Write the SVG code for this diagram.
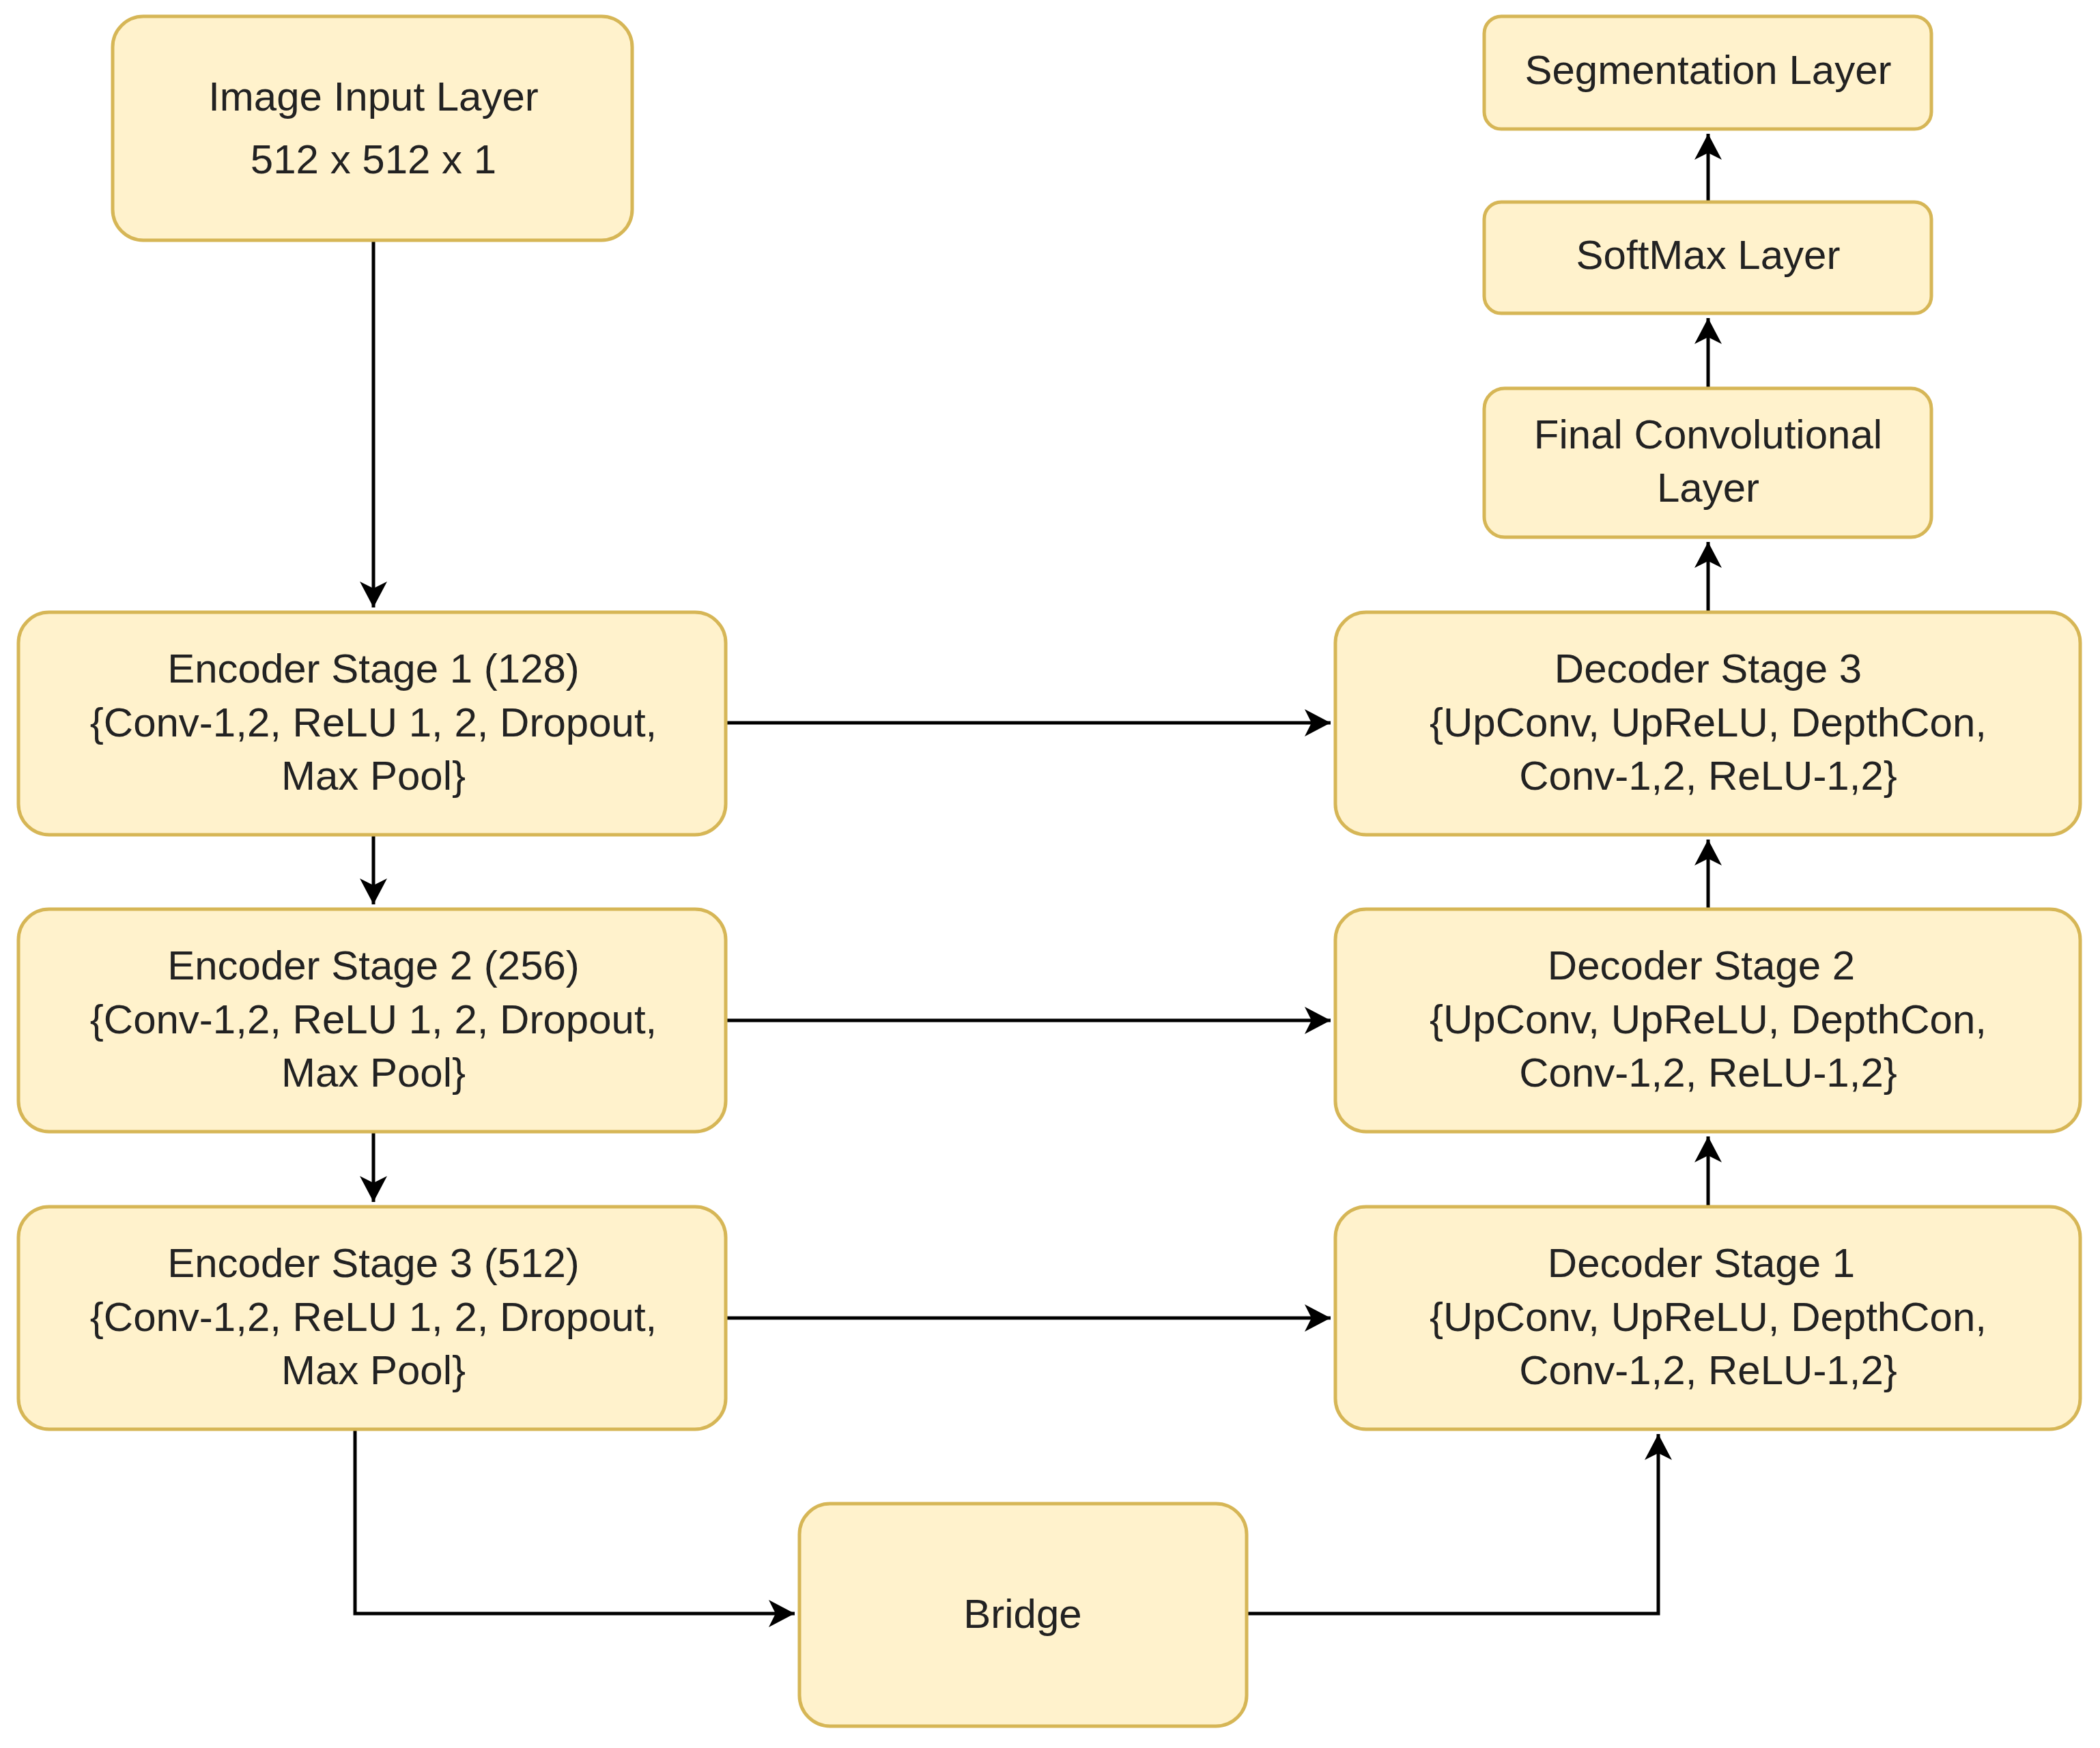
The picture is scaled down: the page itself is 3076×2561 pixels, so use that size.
<svg xmlns="http://www.w3.org/2000/svg" width="3076" height="2561" viewBox="0 0 3076 2561">
<style>
.n{fill:#fff2cc;stroke:#d6b656;stroke-width:5}
text{font-family:"Liberation Sans",Arial,sans-serif;font-size:60px;fill:#222;text-anchor:middle;dominant-baseline:central}
.c{fill:none;stroke:#000;stroke-width:5}
</style>
<defs><marker id="a" markerWidth="10" markerHeight="10" refX="8" refY="5" orient="auto" markerUnits="userSpaceOnUse" viewBox="0 0 10 10" style="overflow:visible"><path d="M-30,-15 L8,5 L-30,25 L-20,5 Z" fill="#000"/></marker></defs>
<rect width="3076" height="2561" fill="#fff"/>
<g id="connectors">
<path class="c" d="M547,352 V890" marker-end="url(#a)"/>
<path class="c" d="M547,1223 V1325" marker-end="url(#a)"/>
<path class="c" d="M547,1658 V1761" marker-end="url(#a)"/>
<path class="c" d="M1063,1059 H1949" marker-end="url(#a)"/>
<path class="c" d="M1063,1495 H1949" marker-end="url(#a)"/>
<path class="c" d="M1063,1931 H1949" marker-end="url(#a)"/>
<path class="c" d="M2502,1332 V1230" marker-end="url(#a)"/>
<path class="c" d="M2502,1768 V1665" marker-end="url(#a)"/>
<path class="c" d="M2502,897 V794" marker-end="url(#a)"/>
<path class="c" d="M2502,569 V466" marker-end="url(#a)"/>
<path class="c" d="M2502,296 V196" marker-end="url(#a)"/>
<path class="c" d="M520,2094 V2364 H1164" marker-end="url(#a)"/>
<path class="c" d="M1826,2364 H2429 V2101" marker-end="url(#a)"/>
</g>
<g id="input"><rect class="n" x="165" y="24" width="761" height="328" rx="45"/><text x="547" y="141">Image Input Layer</text><text x="547" y="233">512 x 512 x 1</text></g>
<g id="enc1"><rect class="n" x="27" y="897" width="1036" height="326" rx="45"/><text x="547" y="979">Encoder Stage 1 (128)</text><text x="547" y="1058">{Conv-1,2, ReLU 1, 2, Dropout,</text><text x="547" y="1136">Max Pool}</text></g>
<g id="enc2"><rect class="n" x="27" y="1332" width="1036" height="326" rx="45"/><text x="547" y="1414">Encoder Stage 2 (256)</text><text x="547" y="1493">{Conv-1,2, ReLU 1, 2, Dropout,</text><text x="547" y="1571">Max Pool}</text></g>
<g id="enc3"><rect class="n" x="27" y="1768" width="1036" height="326" rx="45"/><text x="547" y="1850">Encoder Stage 3 (512)</text><text x="547" y="1929">{Conv-1,2, ReLU 1, 2, Dropout,</text><text x="547" y="2007">Max Pool}</text></g>
<g id="dec3"><rect class="n" x="1956" y="897" width="1091" height="326" rx="45"/><text x="2502" y="979">Decoder Stage 3</text><text x="2502" y="1058">{UpConv, UpReLU, DepthCon,</text><text x="2502" y="1136">Conv-1,2, ReLU-1,2}</text></g>
<g id="dec2"><rect class="n" x="1956" y="1332" width="1091" height="326" rx="45"/><text x="2492" y="1414">Decoder Stage 2</text><text x="2502" y="1493">{UpConv, UpReLU, DepthCon,</text><text x="2502" y="1571">Conv-1,2, ReLU-1,2}</text></g>
<g id="dec1"><rect class="n" x="1956" y="1768" width="1091" height="326" rx="45"/><text x="2492" y="1850">Decoder Stage 1</text><text x="2502" y="1929">{UpConv, UpReLU, DepthCon,</text><text x="2502" y="2007">Conv-1,2, ReLU-1,2}</text></g>
<g id="final"><rect class="n" x="2174" y="569" width="655" height="218" rx="30"/><text x="2502" y="636">Final Convolutional</text><text x="2502" y="714">Layer</text></g>
<g id="softmax"><rect class="n" x="2174" y="296" width="655" height="163" rx="25"/><text x="2502" y="373">SoftMax Layer</text></g>
<g id="seg"><rect class="n" x="2174" y="24" width="655" height="165" rx="25"/><text x="2502" y="102">Segmentation Layer</text></g>
<g id="bridge"><rect class="n" x="1171" y="2203" width="655" height="326" rx="45"/><text x="1498" y="2364">Bridge</text></g>
</svg>
